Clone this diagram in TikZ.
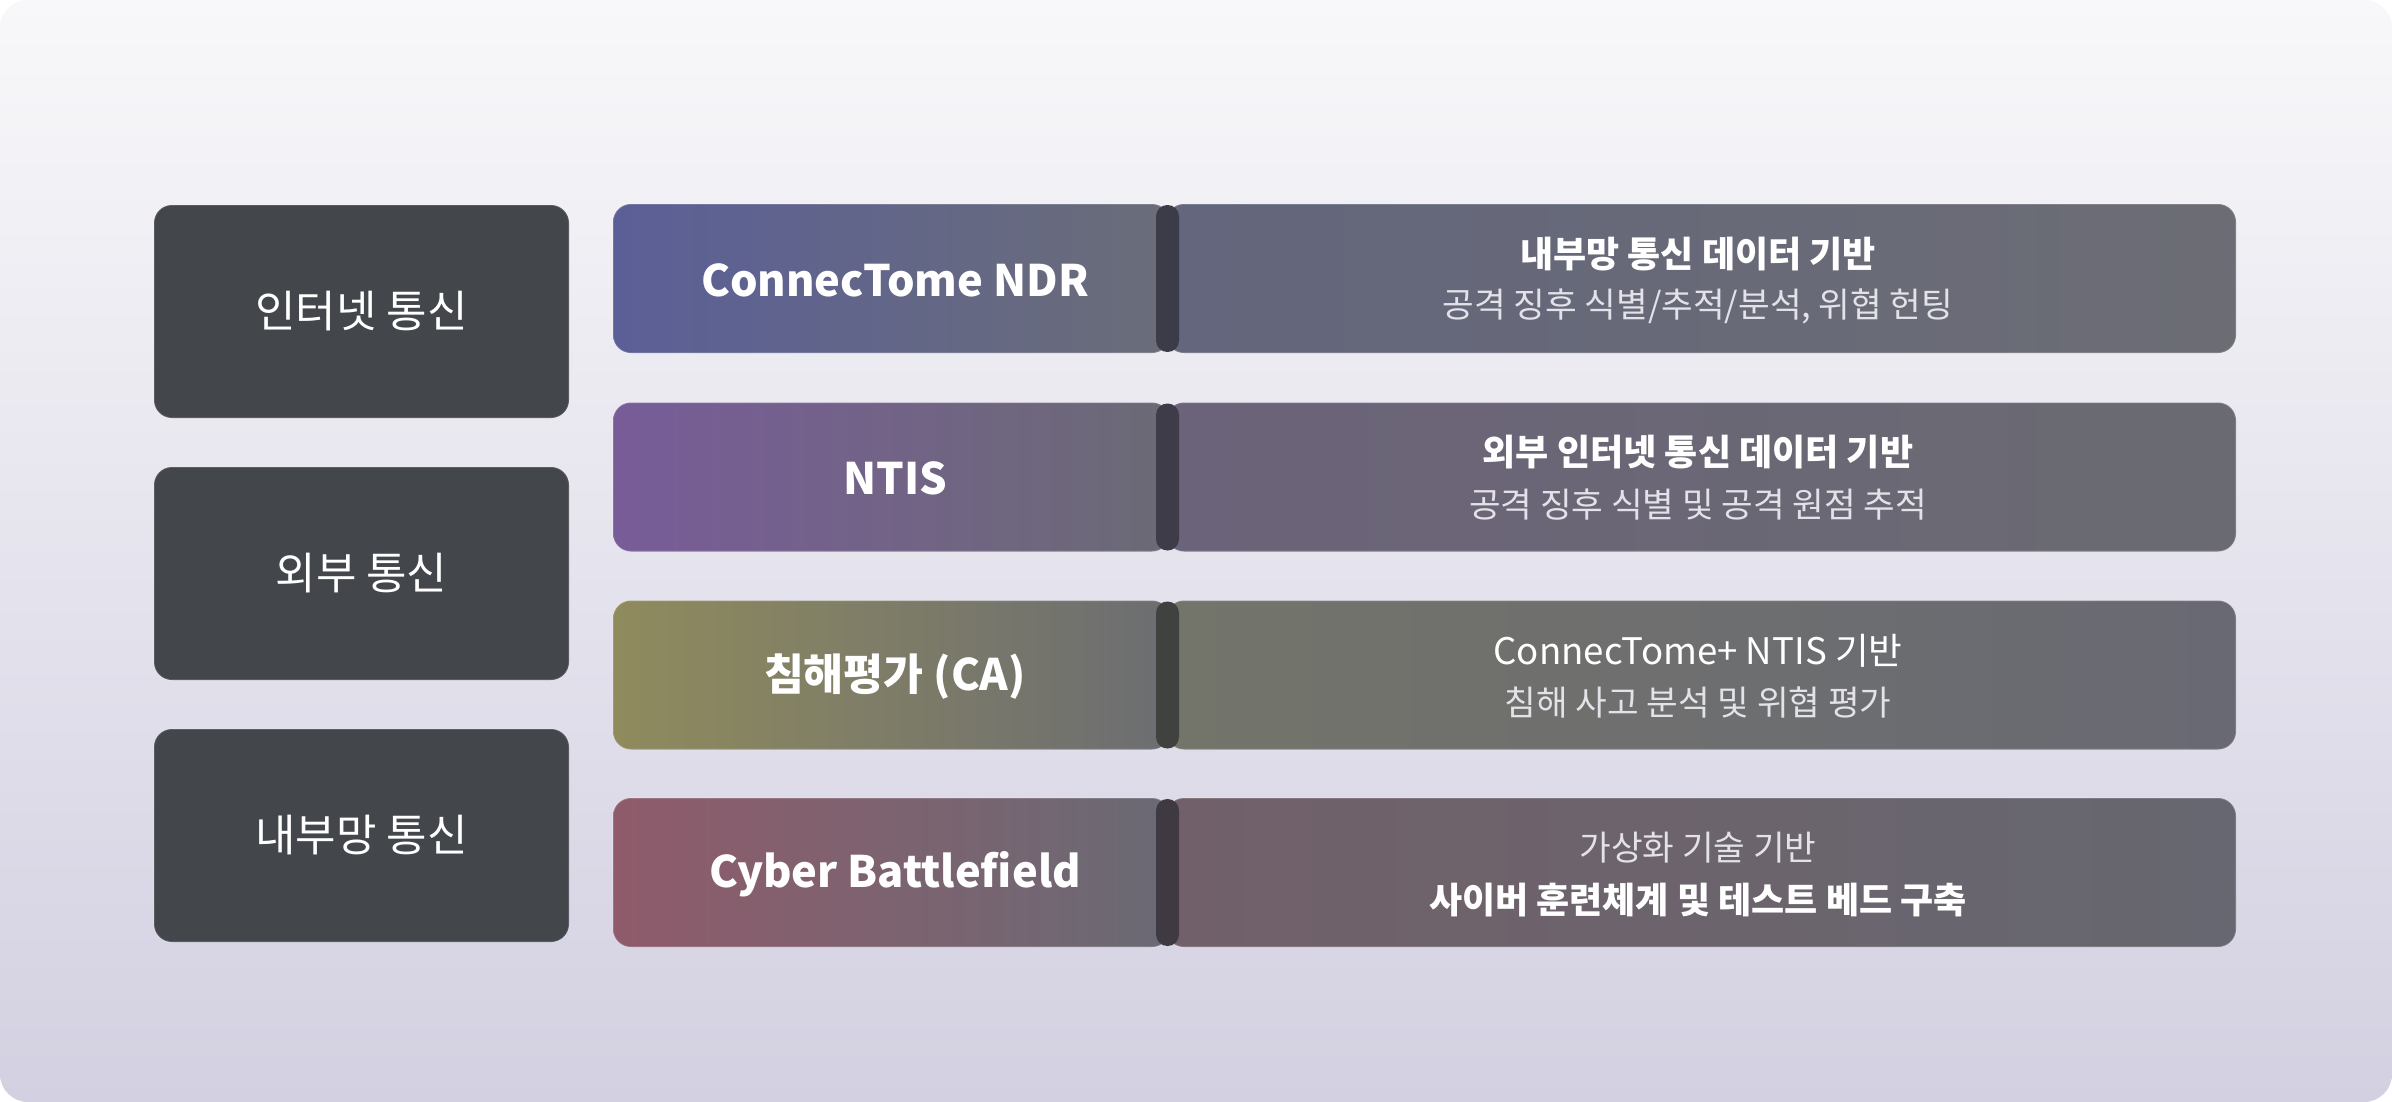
\documentclass[tikz,border=0pt]{standalone}
\usepackage{fontspec}
\setmainfont{Noto Sans CJK KR}
\definecolor{bgtop}{HTML}{F8F8FA}
\definecolor{bgbot}{HTML}{D3D0E1}
\definecolor{lboxc}{HTML}{43464B}
\definecolor{subc}{HTML}{E2E2E8}
\definecolor{aL}{HTML}{5B5F97}\definecolor{aR}{HTML}{6A6D78}
\definecolor{aL2}{HTML}{63667C}\definecolor{aR2}{HTML}{6C6D74}
\definecolor{bL}{HTML}{785C98}\definecolor{bR}{HTML}{6B6A75}
\definecolor{bL2}{HTML}{6B6379}\definecolor{bR2}{HTML}{6A6B72}
\definecolor{cL}{HTML}{8F8B5D}\definecolor{cR}{HTML}{6C6D72}
\definecolor{cL2}{HTML}{73746A}\definecolor{cR2}{HTML}{686973}
\definecolor{dL}{HTML}{8F5B6B}\definecolor{dR}{HTML}{6A6A74}
\definecolor{dL2}{HTML}{716069}\definecolor{dR2}{HTML}{666770}
\definecolor{pA}{HTML}{3B3C48}
\definecolor{pB}{HTML}{3E3C48}
\definecolor{pC}{HTML}{40423F}
\definecolor{pD}{HTML}{3F3A42}
\tikzset{
  lbox/.style={rectangle, rounded corners=9pt, fill=lboxc, draw=white, draw opacity=0.12, line width=0.8pt,
    minimum width=207.5pt, minimum height=106.5pt, inner sep=0pt, text=white, font=\fontsize{22pt}{26pt}\selectfont},
  prodbox/.style={rectangle, rounded corners=9pt, draw=white, draw opacity=0.14, line width=0.8pt,
    minimum width=278.5pt, minimum height=74.5pt, inner sep=0pt},
  descbox/.style={rectangle, rounded corners=9pt, draw=white, draw opacity=0.14, line width=0.8pt,
    minimum width=535pt, minimum height=74.5pt, inner sep=0pt},
  pill/.style={rectangle, rounded corners=5.7pt, minimum width=11.5pt, minimum height=73.5pt, inner sep=0pt},
  prodtxt/.style={text=white, font=\fontsize{21.7pt}{26pt}\selectfont\bfseries, inner sep=0pt},
  titletxt/.style={text=white, font=\fontsize{18pt}{22pt}\selectfont\bfseries, inner sep=0pt},
  plaintxt/.style={text=white, font=\fontsize{18.3pt}{22pt}\selectfont, inner sep=0pt},
  subtxt/.style={text=subc, font=\fontsize{17.2pt}{21pt}\selectfont, inner sep=0pt}
}
\begin{document}
\begin{tikzpicture}[x=0.5pt,y=-0.5pt]
\useasboundingbox (0,0) rectangle (2392,1102);
\fill[white] (0,0) rectangle (2392,1102);
\shade[rounded corners=14pt, top color=bgtop, bottom color=bgbot] (0,0) rectangle (2392,1102);

% left category boxes
\node[lbox] (l1) at (361.5,311.5) {인터넷 통신};
\node[lbox] (l2) at (361.5,573.5) {외부 통신};
\node[lbox] (l3) at (361.5,835.5) {내부망 통신};

% row 1
\node[prodbox, left color=aL, right color=aR] (p1) at (891.5,278.5) {};
\node[descbox, left color=aL2, right color=aR2] (d1) at (1701,278.5) {};
\node[pill, fill=pA] (e1) at (1167.5,278.5) {};
\node[prodtxt] (p1t) at (895,280) {ConnecTome NDR};
\node[titletxt] (d1a) at (1698,254) {내부망 통신 데이터 기반};
\node[subtxt] (d1b) at (1698,306) {공격 징후 식별/추적/분석, 위협 헌팅};

% row 2
\node[prodbox, left color=bL, right color=bR] (p2) at (891.5,477) {};
\node[descbox, left color=bL2, right color=bR2] (d2) at (1701,477) {};
\node[pill, fill=pB] (e2) at (1167.5,477) {};
\node[prodtxt] (p2t) at (895,478.5) {NTIS};
\node[titletxt] (d2a) at (1698,452.5) {외부 인터넷 통신 데이터 기반};
\node[subtxt] (d2b) at (1698,504.5) {공격 징후 식별 및 공격 원점 추적};

% row 3
\node[prodbox, left color=cL, right color=cR] (p3) at (891.5,675) {};
\node[descbox, left color=cL2, right color=cR2] (d3) at (1701,675) {};
\node[pill, fill=pC] (e3) at (1167.5,675) {};
\node[prodtxt] (p3t) at (895,676.5) {침해평가 (CA)};
\node[plaintxt] (d3a) at (1698,650.5) {ConnecTome+ NTIS 기반};
\node[subtxt] (d3b) at (1698,702.5) {침해 사고 분석 및 위협 평가};

% row 4
\node[prodbox, left color=dL, right color=dR] (p4) at (891.5,872.5) {};
\node[descbox, left color=dL2, right color=dR2] (d4) at (1701,872.5) {};
\node[pill, fill=pD] (e4) at (1167.5,872.5) {};
\node[prodtxt] (p4t) at (895,874) {Cyber Battlefield};
\node[subtxt] (d4a) at (1698,848) {가상화 기술 기반};
\node[titletxt] (d4b) at (1698,900) {사이버 훈련체계 및 테스트 베드 구축};
\end{tikzpicture}
\end{document}
